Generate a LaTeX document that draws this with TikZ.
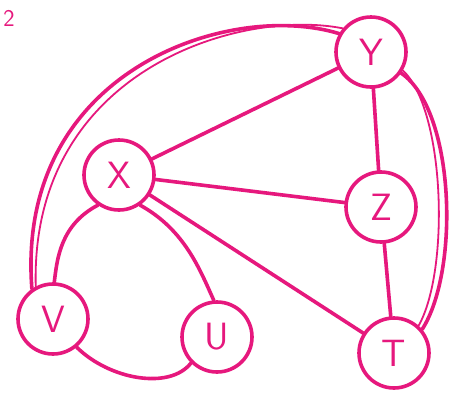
\documentclass[tikz,border=0pt]{standalone}
\usepackage{tikz}
\usepackage{xcolor}
\definecolor{penpink}{RGB}{230,24,125}

\begin{document}
\begin{tikzpicture}[x=1pt,y=-1pt,
  vert/.style={circle,draw=penpink,line width=3.6pt,minimum size=70pt,inner sep=0pt,
    text=penpink,font=\fontsize{38}{38}\sffamily},
  edge/.style={draw=penpink,line width=3.6pt,line cap=round}]
  \useasboundingbox (0,0) rectangle (463,392);
  \fill[white] (0,0) rectangle (463,392);
  % vertices
  \node[vert] (y) at (371,52) {Y};
  \node[vert] (x) at (119,175) {X};
  \node[vert] (z) at (381,207) {Z};
  \node[vert] (t) at (394,353) {T};
  \node[vert] (v) at (53,319) {V};
  \node[vert] (u) at (217,337) {U};
  \node[text=penpink,font=\fontsize{24}{24}\sffamily] (num) at (9,18) {2};
  % straight edges
  \draw[edge] (x) -- (y);  \draw[edge] (x) -- (z);  \draw[edge] (x) -- (t);
  \draw[edge] (y) -- (z);  \draw[edge] (z) -- (t);
  % curved edges
  \draw[edge] (y.150) .. controls (230,0) and (15,70) .. (v.125);
  \draw[edge,line width=1.8pt] (y.140) .. controls (240,8) and (30,70) .. (v.118);
  \draw[edge] (y.-35) .. controls (455,110) and (460,270) .. (t.40);
  \draw[edge,line width=1.8pt] (y.-30) .. controls (445,110) and (450,270) .. (t.48);
  \draw[edge] (x.235) .. controls (60,225) and (57,260) .. (v.88);
  \draw[edge] (x.-55) .. controls (185,230) and (200,270) .. (u.95);
  \draw[edge] (v.-50) .. controls (110,380) and (170,390) .. (u.225);
\end{tikzpicture}
\end{document}
